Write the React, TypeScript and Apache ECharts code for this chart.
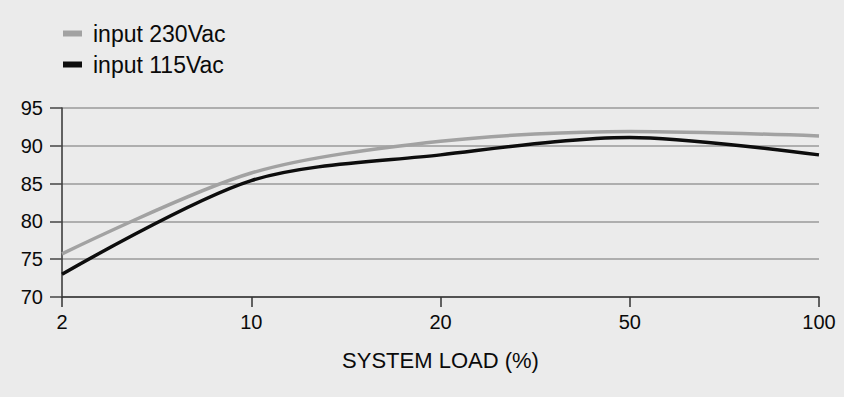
import React, { useEffect, useRef } from "react";
import * as echarts from "echarts";

const categories = ["2", "10", "20", "50", "100"];
const input230 = [75.7, 86.4, 90.6, 91.9, 91.3];
const input115 = [73.0, 85.4, 88.8, 91.1, 88.8];
const seriesNames = ["input 230Vac", "input 115Vac"];
const axisName = "SYSTEM LOAD (%)";

const FONT = "Liberation Sans, Arial, Helvetica, sans-serif";

export default function App() {
  const ref = useRef<HTMLDivElement>(null);
  useEffect(() => {
    if (!ref.current) return;
    const chart = echarts.init(ref.current, undefined, { renderer: "svg" });
    chart.setOption({
      animation: false,
      backgroundColor: "#ebebeb",
      textStyle: { fontFamily: FONT },
      legend: {
        orient: "vertical",
        left: 58,
        top: 17,
        itemWidth: 19,
        itemHeight: 6,
        itemGap: 8,
        icon: "rect",
        textStyle: { fontSize: 23, color: "#0a0a0a", fontFamily: FONT, padding: [0, 0, 0, 6] },
        data: seriesNames,
      },
      grid: { left: 62, right: 25, top: 108, bottom: 100, containLabel: false },
      xAxis: {
        type: "category",
        data: categories,
        boundaryGap: false,
        name: axisName,
        nameLocation: "middle",
        nameGap: 52,
        nameTextStyle: { fontSize: 22, color: "#0a0a0a", fontFamily: FONT },
        axisLine: { lineStyle: { color: "#333", width: 1.5 } },
        axisTick: { show: true, length: 10, lineStyle: { color: "#333", width: 1.5 } },
        axisLabel: { margin: 15, fontSize: 20, color: "#0a0a0a", fontFamily: FONT },
        splitLine: { show: false },
      },
      yAxis: {
        type: "value",
        min: 70,
        max: 95,
        interval: 5,
        axisLine: { show: true, lineStyle: { color: "#333", width: 1.5 } },
        axisTick: { show: true, length: 12, lineStyle: { color: "#444", width: 1.5 } },
        axisLabel: { margin: 19, fontSize: 20, color: "#0a0a0a", fontFamily: FONT },
        splitLine: { show: true, lineStyle: { color: "#9a9a9a", width: 1.5 } },
      },
      series: [
        {
          name: seriesNames[0],
          type: "line",
          data: input230,
          smooth: 0.3,
          showSymbol: false,
          symbol: "none",
          lineStyle: { color: "#a2a2a2", width: 3.5 },
          itemStyle: { color: "#a2a2a2" },
        },
        {
          name: seriesNames[1],
          type: "line",
          data: input115,
          smooth: 0.3,
          showSymbol: false,
          symbol: "none",
          lineStyle: { color: "#0d0d0d", width: 3.5 },
          itemStyle: { color: "#0d0d0d" },
        },
      ],
    });
    return () => chart.dispose();
  }, []);
  return <div ref={ref} style={{ width: 844, height: 397, position: "fixed", left: 0, top: 0 }} />;
}
